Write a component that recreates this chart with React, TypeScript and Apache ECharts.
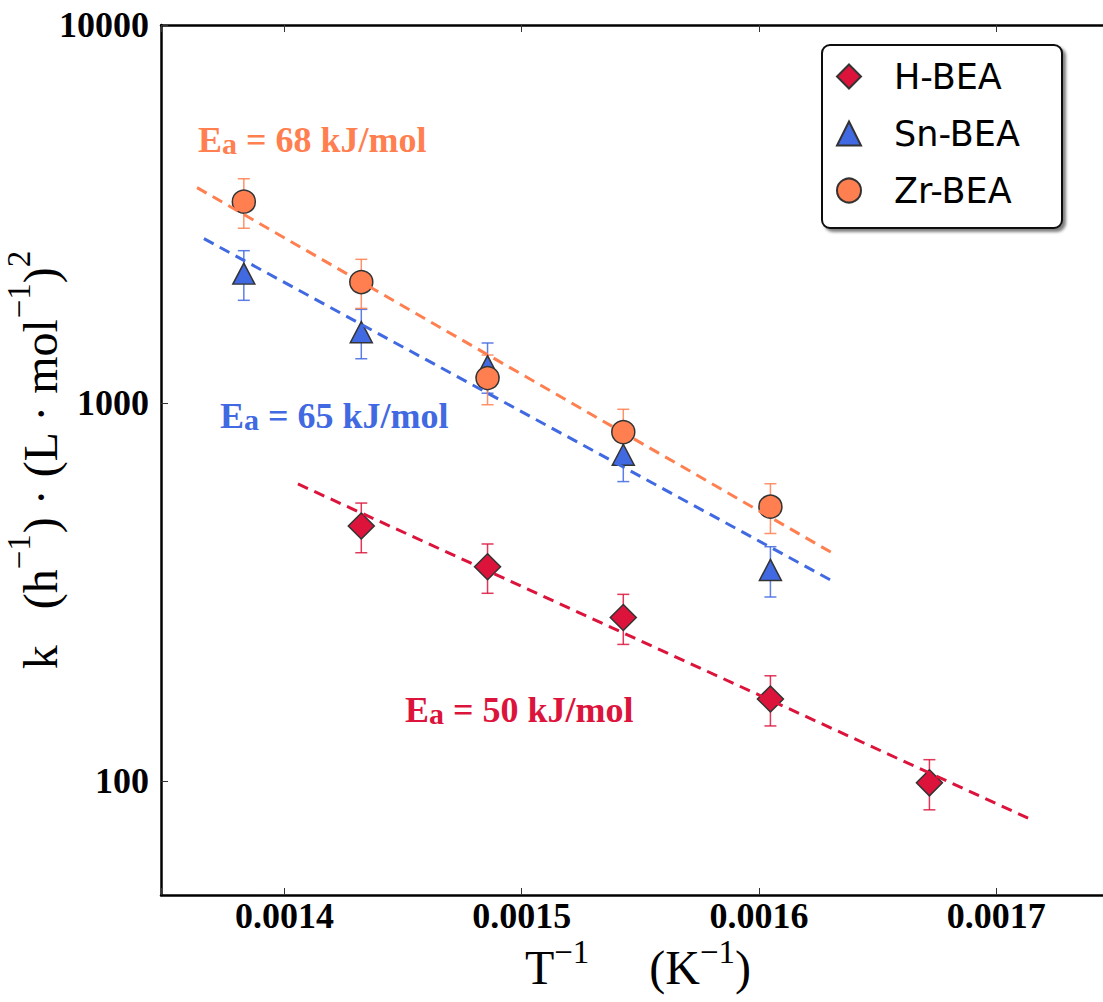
import React, { useEffect, useRef } from "react";
import * as echarts from "echarts";

// ---- axis ticks ----
const invTempTicks = [0.0014, 0.0015, 0.0016, 0.0017];
const seriesNames = ["H-BEA", "Sn-BEA", "Zr-BEA"];

// ---- data (x = 1/T in 1/K, y = k) ----
const xH = [0.0014324, 0.0014856, 0.0015428, 0.0016048, 0.0016718];
const yH = [473, 369, 271, 165, 99];
const eH = [71, 55, 41, 25, 15];

const xSnZr = [0.0013829, 0.0014324, 0.0014856, 0.0015428, 0.0016048];
const ySn = [2200, 1540, 1252, 730, 362];
const eSn = [330, 230, 190, 110, 55];
const yZr = [3410, 2090, 1165, 838, 532];
const eZr = [510, 310, 175, 125, 80];

// ---- Arrhenius fit lines (end points) ----
const fitH = [[0.0014057, 611], [0.0017142, 79.4]];
const fitSn = [[0.0013661, 2723], [0.0016307, 339]];
const fitZr = [[0.0013632, 3715], [0.0016307, 402]];

const annotations = ["68", "65", "50"];

const RED = "#DC143C";
const BLUE = "#4169E1";
const ORANGE = "#FF7F50";

const SERIF = "Liberation Serif";

function errSeries(name: string, xs: number[], ys: number[], es: number[], color: string) {
  return {
    type: "custom",
    name,
    silent: true,
    encode: { x: 0, y: 1 },
    data: xs.map((x, i) => [x, ys[i], es[i]]),
    renderItem: (params: any, api: any) => {
      const x = api.value(0);
      const y = api.value(1);
      const e = api.value(2);
      const top = api.coord([x, y + e]);
      const bot = api.coord([x, y - e]);
      const cap = 6;
      const st = { stroke: color, lineWidth: 1.5, opacity: 0.85 };
      return {
        type: "group",
        children: [
          { type: "line", shape: { x1: top[0], y1: top[1], x2: bot[0], y2: bot[1] }, style: st },
          { type: "line", shape: { x1: top[0] - cap, y1: top[1], x2: top[0] + cap, y2: top[1] }, style: st },
          { type: "line", shape: { x1: bot[0] - cap, y1: bot[1], x2: bot[0] + cap, y2: bot[1] }, style: st },
        ],
      };
    },
  };
}

function scatterSeries(name: string, xs: number[], ys: number[], symbol: string, size: any, color: string) {
  return {
    type: "scatter",
    name,
    symbol,
    symbolSize: size,
    data: xs.map((x, i) => [x, ys[i]]),
    itemStyle: { color, borderColor: "#333", borderWidth: 1.5, opacity: 1 },
  };
}

function fitSeries(name: string, pts: number[][], color: string) {
  return {
    type: "line",
    name,
    data: pts,
    symbol: "none",
    showSymbol: false,
    silent: true,
    lineStyle: { color, width: 3, type: [11, 7] },
  };
}

function annotation(value: string, color: string, x: number, y: number) {
  return {
    type: "text",
    x,
    y,
    z: 5,
    style: {
      text: `{m|E}{s|a}{m| = ${value} kJ/mol}`,
      fill: color,
      rich: {
        m: { fontSize: 36, fontFamily: SERIF, fontWeight: "bold", fill: color, lineHeight: 40, verticalAlign: "bottom" },
        s: { fontSize: 30, fontFamily: SERIF, fontWeight: "bold", fill: color, lineHeight: 30, verticalAlign: "bottom" },
      },
    },
  };
}

const xTitleRich = {
  m: { fontSize: 48, fontFamily: SERIF, color: "#000", lineHeight: 56, verticalAlign: "bottom" },
  s: { fontSize: 33, fontFamily: SERIF, color: "#000", lineHeight: 27, verticalAlign: "top" },
};

const yTitleRich = {
  m: { fontSize: 48, fontFamily: SERIF, color: "#000", lineHeight: 62, verticalAlign: "bottom" },
  s: { fontSize: 33, fontFamily: SERIF, color: "#000", lineHeight: 33, verticalAlign: "top" },
};

export default function App() {
  const ref = useRef<HTMLDivElement>(null);
  useEffect(() => {
    const chart = echarts.init(ref.current!, null, { renderer: "svg" });
    const tickLabelStyle = {
      fontFamily: SERIF,
      fontWeight: "bold",
      fontSize: 36,
      color: "#000",
    };
    const tickStyle = { inside: true, length: 7, lineStyle: { color: "#333", width: 1 } };
    const option: any = {
      animation: false,
      backgroundColor: "#fff",
      grid: { left: 161, top: 25, width: 954, height: 870, outerBoundsMode: "none", containLabel: false },
      xAxis: [
        {
          type: "value",
          position: "bottom",
          min: 0.001348,
          max: 0.00175,
          splitLine: { show: false },
          axisLine: { lineStyle: { color: "#000", width: 2.5 } },
          axisTick: tickStyle,
          axisLabel: {
            ...tickLabelStyle,
            lineHeight: 36,
            margin: 3,
            customValues: invTempTicks,
            formatter: (v: number) => v.toFixed(4),
          },
          name: "{m|T}{s|−1}{m|     (K}{s|−1}{m|)}",
          nameLocation: "middle",
          nameGap: 40,
          nameMoveOverlap: false,
          nameTextStyle: { rich: xTitleRich },
        },
        {
          type: "value",
          position: "top",
          min: 0.001348,
          max: 0.00175,
          splitLine: { show: false },
          axisLine: { lineStyle: { color: "#000", width: 2.5 } },
          axisTick: tickStyle,
          axisLabel: { show: false },
        },
      ],
      yAxis: {
        type: "log",
        logBase: 10,
        min: 50,
        max: 10000,
        splitLine: { show: false },
        minorTick: { show: false },
        axisLine: { lineStyle: { color: "#000", width: 2.5 } },
        axisTick: tickStyle,
        axisLabel: {
          ...tickLabelStyle,
          margin: 12,
          showMinLabel: false,
          formatter: (v: number) => String(Math.round(v)),
        },
        name: "{m|k}{m|   (h}{s|−1}{m|) · (L · mol}{s|−1}{m|)}{s|2}",
        nameLocation: "middle",
        nameRotate: 90,
        nameGap: 97,
        nameMoveOverlap: false,
        nameTextStyle: { rich: yTitleRich },
      },
      legend: {
        data: seriesNames,
        orient: "vertical",
        left: 836,
        top: 59,
        itemWidth: 24,
        itemHeight: 24,
        itemGap: 22,
        padding: 0,
        selectedMode: false,
        textStyle: { fontFamily: "DejaVu Sans", fontSize: 35, color: "#000", padding: [0, 0, 0, 28] },
      },
      graphic: [
        {
          type: "rect",
          z: 3,
          shape: { x: 822, y: 45, width: 240, height: 183, r: 8 },
          style: {
            fill: "#fff",
            stroke: "#111",
            lineWidth: 2,
            shadowBlur: 3,
            shadowOffsetX: 3,
            shadowOffsetY: 3,
            shadowColor: "rgba(0,0,0,0.5)",
          },
        },
        annotation(annotations[0], ORANGE, 198, 118),
        annotation(annotations[1], BLUE, 220, 394),
        annotation(annotations[2], RED, 405, 688),
      ],
      series: [
        fitSeries("fit H", fitH, RED),
        fitSeries("fit Sn", fitSn, BLUE),
        fitSeries("fit Zr", fitZr, ORANGE),
        errSeries("H-BEA error", xH, yH, eH, RED),
        scatterSeries("H-BEA", xH, yH, "diamond", 26, RED),
        errSeries("Sn-BEA error", xSnZr, ySn, eSn, BLUE),
        scatterSeries("Sn-BEA", xSnZr, ySn, "triangle", [22, 21], BLUE),
        errSeries("Zr-BEA error", xSnZr, yZr, eZr, ORANGE),
        scatterSeries("Zr-BEA", xSnZr, yZr, "circle", 23, ORANGE),
      ],
    };
    chart.setOption(option);
    return () => chart.dispose();
  }, []);
  return (
    <div
      ref={ref}
      style={{ position: "absolute", left: 0, top: 0, width: 1103, height: 1002 }}
    />
  );
}
